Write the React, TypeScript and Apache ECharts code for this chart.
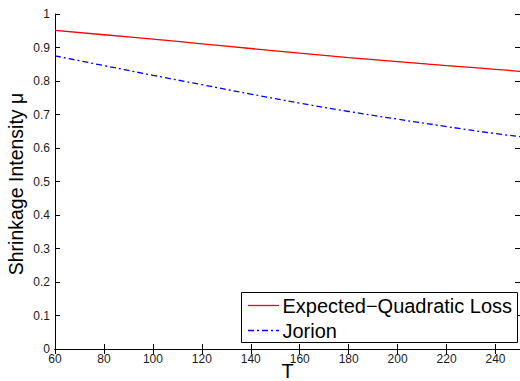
import React, { useEffect, useRef } from "react";
import * as echarts from "echarts";

const T = [60, 80, 100, 120, 140, 160, 180, 200, 220, 240, 250];
const expectedQuadratic = [0.951, 0.938, 0.925, 0.911, 0.897, 0.883, 0.870, 0.858, 0.846, 0.835, 0.829];
const jorion = [0.875, 0.846, 0.817, 0.789, 0.761, 0.734, 0.709, 0.686, 0.664, 0.643, 0.634];
const seriesNames = ["Expected\u2212Quadratic Loss", "Jorion"];
const yAxisTitle = "Shrinkage Intensity \u03bc";
const xAxisTitle = "T";

const FONT = "Liberation Sans, Arial, Helvetica, sans-serif";
const RED = "#ff0000";
const BLUE = "#0000ff";
const DASHDOT = [6, 3, 2, 3];

export default function App() {
  const ref = useRef<HTMLDivElement>(null);
  useEffect(() => {
    if (!ref.current) return;
    const chart = echarts.init(ref.current, undefined, { renderer: "svg" });
    const axisLine = { show: true, lineStyle: { color: "#000", width: 1 } };
    const tick = { show: true, inside: true, length: 5, lineStyle: { color: "#000" } };
    const xBase = { type: "value" as const, min: 60, max: 250, interval: 20, splitLine: { show: false } };
    const yBase = { type: "value" as const, min: 0, max: 1, interval: 0.1, splitLine: { show: false } };
    chart.setOption({
      animation: false,
      backgroundColor: "#fff",
      grid: { left: 55, top: 14, right: 0, bottom: 32, containLabel: false, outerBoundsMode: "none" },
      xAxis: [
        {
          ...xBase,
          position: "bottom",
          axisLine,
          axisTick: tick,
          axisLabel: { showMaxLabel: false, color: "#1a1a1a", fontSize: 12, fontFamily: FONT, margin: 4 },
          name: xAxisTitle,
          nameLocation: "middle",
          nameGap: 12,
          nameMoveOverlap: false,
          nameTextStyle: { color: "#000", fontSize: 20, fontFamily: FONT, lineHeight: 19 },
        },
        {
          ...xBase,
          position: "top",
          axisLine,
          axisTick: tick,
          axisLabel: { show: false },
        },
      ],
      yAxis: [
        {
          ...yBase,
          position: "left",
          axisLine,
          axisTick: tick,
          axisLabel: {
            color: "#1a1a1a",
            fontSize: 12,
            fontFamily: FONT,
            margin: 5,
            formatter: (v: number) => String(Math.round(v * 10) / 10),
          },
        },
        {
          ...yBase,
          position: "right",
          axisLine,
          axisTick: tick,
          axisLabel: { show: false },
        },
      ],
      graphic: [
        {
          type: "text",
          x: 15.5,
          y: 184,
          rotation: Math.PI / 2,
          style: {
            text: yAxisTitle,
            fill: "#000",
            fontSize: 19.5,
            fontFamily: FONT,
            align: "center",
            verticalAlign: "middle",
          },
        },
        {
          type: "rect",
          shape: { x: 241.5, y: 292.5, width: 276, height: 50 },
          style: { fill: "#fff", stroke: "#000", lineWidth: 1 },
          z: 100,
        },
        {
          type: "line",
          shape: { x1: 248, y1: 305.5, x2: 279, y2: 305.5 },
          style: { stroke: RED, lineWidth: 1.3 },
          z: 101,
        },
        {
          type: "line",
          shape: { x1: 248, y1: 330.5, x2: 279, y2: 330.5 },
          style: { stroke: BLUE, lineWidth: 1.3, lineDash: DASHDOT },
          z: 101,
        },
        {
          type: "text",
          x: 282.5,
          y: 306,
          style: { text: seriesNames[0], fill: "#000", fontSize: 20, fontFamily: FONT, verticalAlign: "middle" },
          z: 101,
        },
        {
          type: "text",
          x: 282.5,
          y: 331,
          style: { text: seriesNames[1], fill: "#000", fontSize: 20, fontFamily: FONT, verticalAlign: "middle" },
          z: 101,
        },
      ],
      series: [
        {
          name: seriesNames[0],
          type: "line",
          data: T.map((t, i) => [t, expectedQuadratic[i]]),
          showSymbol: false,
          symbol: "none",
          smooth: true,
          lineStyle: { color: RED, width: 1.3 },
          itemStyle: { color: RED },
        },
        {
          name: seriesNames[1],
          type: "line",
          data: T.map((t, i) => [t, jorion[i]]),
          showSymbol: false,
          symbol: "none",
          smooth: true,
          lineStyle: { color: BLUE, width: 1.3, type: DASHDOT },
          itemStyle: { color: BLUE },
        },
      ],
    });
    return () => chart.dispose();
  }, []);
  return (
    <div
      ref={ref}
      style={{ position: "fixed", left: 0, top: 0, width: 520, height: 381, background: "#fff" }}
    />
  );
}
